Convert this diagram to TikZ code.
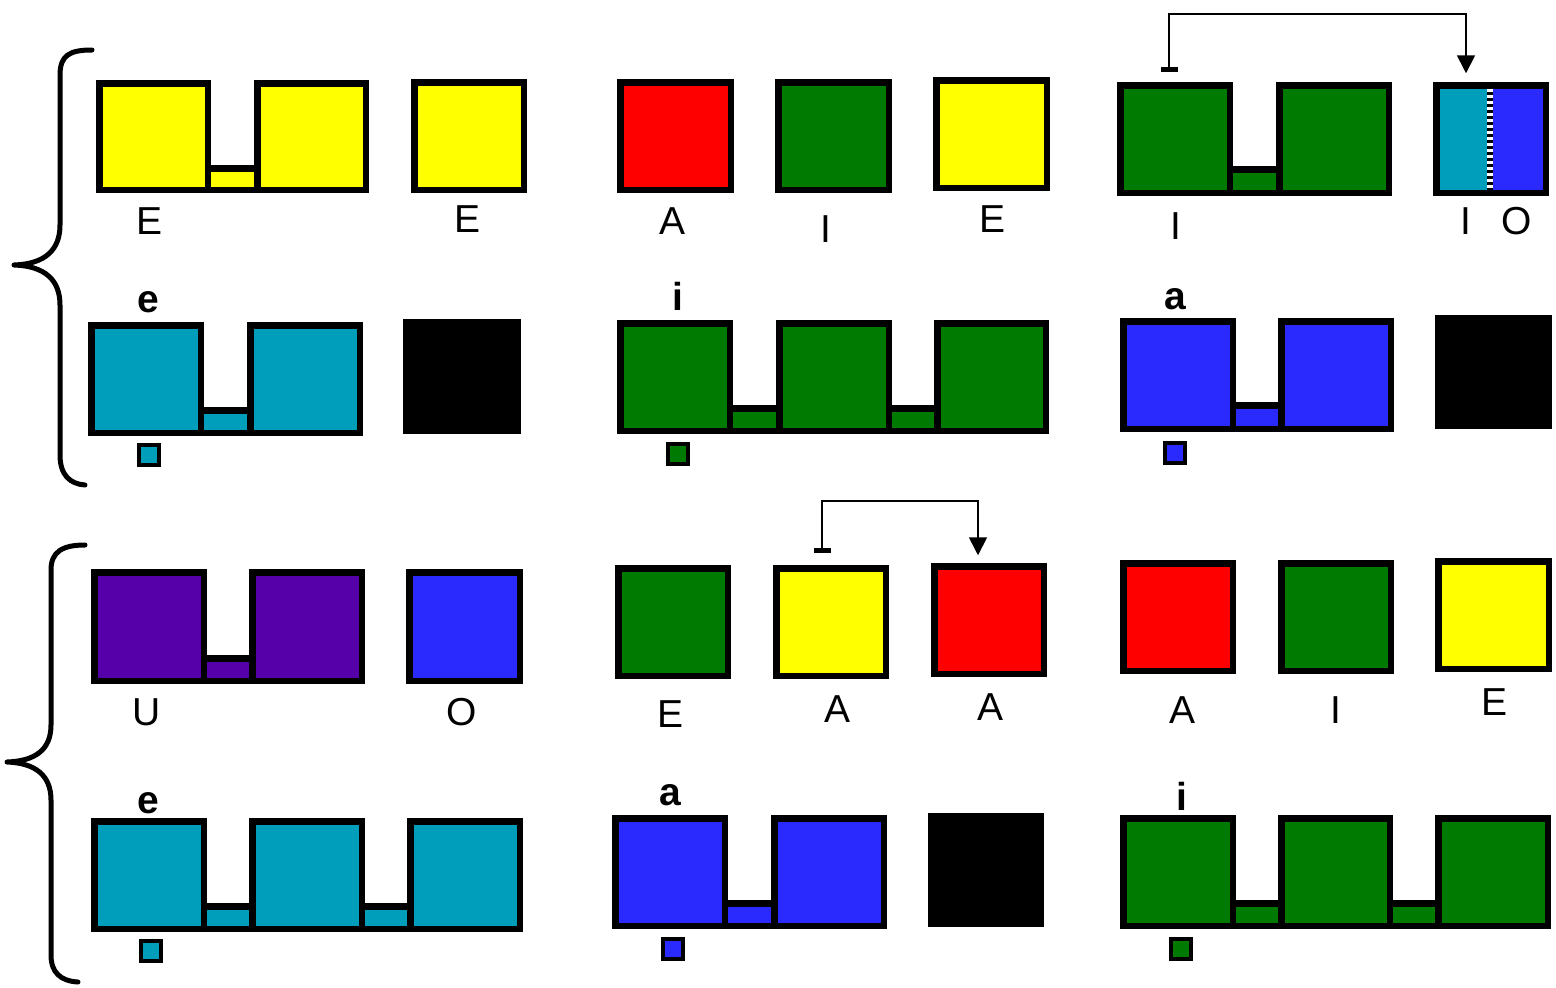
\documentclass[tikz,border=0pt]{standalone}
\usepackage{fontspec}
\setmainfont{Liberation Sans}
\usetikzlibrary{arrows.meta}
\definecolor{cY}{HTML}{FFFF00}
\definecolor{cR}{HTML}{FF0000}
\definecolor{cG}{HTML}{007A00}
\definecolor{cC}{HTML}{009EBB}
\definecolor{cB}{HTML}{2A2AFF}
\definecolor{cP}{HTML}{5500A8}
\newcommand\bx[7][6.5]{%
 \pgfmathsetmacro\bxw{#5-#3-#1}\pgfmathsetmacro\bxh{#6-#4-#1}%
 \pgfmathsetmacro\bxx{(#3+#5)/2}\pgfmathsetmacro\bxy{(#4+#6)/2}%
 \node[box,line width=#1pt,fill=#7,minimum width=\bxw pt,minimum height=\bxh pt] (#2) at (\bxx,\bxy) {};}
\begin{document}
\begin{tikzpicture}[x=1pt,y=-1pt,
  box/.style={draw=black,inner sep=0pt,outer sep=0pt},
  lab/.style={font=\fontsize{39}{47}\selectfont,inner sep=0pt,anchor=base},
  labl/.style={font=\fontsize{39}{47}\selectfont\bfseries,inner sep=0pt,anchor=base},
  conn/.style={draw=black,line width=1.8pt},
  brace/.style={draw=black,line width=5pt,line cap=round,line join=round}]
\useasboundingbox (0,0) rectangle (1556,988);
% braces
\draw[brace] (92,50) .. controls (70,50) and (60,55) .. (60,75) -- (60,225)
  .. controls (60,250) and (45,264) .. (14,265)
  .. controls (45,266) and (60,280) .. (60,305) -- (60,455)
  .. controls (60,475) and (70,484) .. (85,485);
\draw[brace] (85,545) .. controls (62,545) and (51,552) .. (51,570) -- (51,725)
  .. controls (51,750) and (35,761) .. (7,762)
  .. controls (35,763) and (51,775) .. (51,800) -- (51,955)
  .. controls (51,972) and (60,981) .. (78,982);
% ---------- row 1
\bx{b1}{204.5}{165}{260.5}{193}{cY}
\bx{y1l}{96}{80}{211}{193}{cY}
\bx{y1r}{254}{80}{369}{193}{cY}
\bx{y2}{411}{79}{527}{193}{cY}
\bx{r1}{617}{79}{734}{193}{cR}
\bx{g1}{775}{79}{892}{193}{cG}
\bx{y3}{933}{77}{1050}{191}{cY}
\bx{b2}{1226.5}{166}{1282.5}{196}{cG}
\bx{gl}{1117}{82}{1233}{196}{cG}
\bx{gr}{1276}{82}{1392}{196}{cG}
\bx{io}{1433}{82}{1549}{196}{cB}
\fill[cC] (1439.5,88.5) rectangle (1487,189.5);
\draw[black,line width=6pt] (1490,88.5) -- (1490,189.5);
\draw[white,line width=6pt,dash pattern=on 3pt off 3pt] (1490,88.5) -- (1490,189.5);
\draw[conn,{Bar[width=17pt,line width=5pt]}-{Triangle[width=18pt,length=18pt]}]
  ([xshift=-6pt,yshift=13pt]gl.north) -- ++(0,-58) -| ([xshift=-25pt,yshift=12pt]io.north);
\node[lab] (t1) at (150,234) {E};
\node[lab] (t2) at (468,232) {E};
\node[lab] (t3) at (672,234) {A};
\node[lab] (t4) at (826,242) {I};
\node[lab] (t5) at (992,232) {E};
\node[lab] (t6) at (1176,239) {I};
\node[lab] (t7) at (1466,234) {I};
\node[lab] (t8) at (1517,234) {O};
% ---------- row 2
\bx{b3}{197.5}{407}{253.5}{436}{cC}
\bx{c2l}{88}{322}{204}{436}{cC}
\bx{c2r}{247}{322}{363}{436}{cC}
\bx{k1}{403}{319}{521}{434}{black}
\bx{b4}{726.5}{405}{782.5}{434}{cG}
\bx{b5}{885.5}{405}{940.5}{434}{cG}
\bx{g2a}{617}{320}{733}{434}{cG}
\bx{g2b}{776}{320}{892}{434}{cG}
\bx{g2c}{934}{320}{1049}{434}{cG}
\bx{b6}{1229.5}{402}{1284.5}{432}{cB}
\bx{u2l}{1120}{318}{1236}{432}{cB}
\bx{u2r}{1278}{318}{1394}{432}{cB}
\bx{k2}{1435}{315}{1552}{429}{black}
\bx[4]{s1}{137}{443}{161}{467}{cC}
\bx[4]{s2}{666}{442}{690}{466}{cG}
\bx[4]{s3}{1163}{441}{1187}{465}{cB}
\node[labl] (t9) at (148,312) {e};
\node[labl] (t10) at (678,310) {i};
\node[labl] (t11) at (1175,309) {a};
% ---------- row 3
\bx{b7}{200.5}{655}{255.5}{684}{cP}
\bx{p3l}{91}{569}{207}{684}{cP}
\bx{p3r}{249}{569}{365}{684}{cP}
\bx{o3}{406}{569}{523}{684}{cB}
\bx{g3}{615}{565}{731}{679}{cG}
\bx{y4}{773}{565}{889}{679}{cY}
\bx{r3}{931}{563}{1047}{677}{cR}
\bx{r4}{1120}{560}{1236}{674}{cR}
\bx{g4}{1278}{560}{1394}{674}{cG}
\bx{y5}{1435}{558}{1552}{672}{cY}
\draw[conn,{Bar[width=17pt,line width=5pt]}-{Triangle[width=18pt,length=18pt]}]
  ([xshift=-9pt,yshift=15pt]y4.north) -- ++(0,-52) -| ([xshift=-11pt,yshift=11pt]r3.north);
\node[lab] (t12) at (147,725) {U};
\node[lab] (t13) at (462,725) {O};
\node[lab] (t14) at (670,727) {E};
\node[lab] (t15) at (837,722) {A};
\node[lab] (t16) at (990,720) {A};
\node[lab] (t17) at (1182,723) {A};
\node[lab] (t18) at (1336,723) {I};
\node[lab] (t19) at (1494,715) {E};
% ---------- row 4
\bx{b8}{200.5}{903}{255.5}{932}{cC}
\bx{b9}{358.5}{903}{413.5}{932}{cC}
\bx{c4a}{91}{818}{207}{932}{cC}
\bx{c4b}{249}{818}{365}{932}{cC}
\bx{c4c}{407}{818}{523}{932}{cC}
\bx{b10}{721.5}{900}{777.5}{929}{cB}
\bx{u4l}{612}{815}{728}{929}{cB}
\bx{u4r}{771}{815}{887}{929}{cB}
\bx{k3}{928}{813}{1044}{927}{black}
\bx{b11}{1229.5}{900}{1284.5}{929}{cG}
\bx{b12}{1386.5}{900}{1441.5}{929}{cG}
\bx{g5a}{1120}{815}{1236}{929}{cG}
\bx{g5b}{1278}{815}{1393}{929}{cG}
\bx{g5c}{1435}{815}{1551}{929}{cG}
\bx[4]{s4}{139}{939}{163}{963}{cC}
\bx[4]{s5}{661}{937}{685}{961}{cB}
\bx[4]{s6}{1169}{937}{1193}{961}{cG}
\node[labl] (t20) at (148,813) {e};
\node[labl] (t21) at (670,805) {a};
\node[labl] (t22) at (1182,810) {i};
\end{tikzpicture}
\end{document}
